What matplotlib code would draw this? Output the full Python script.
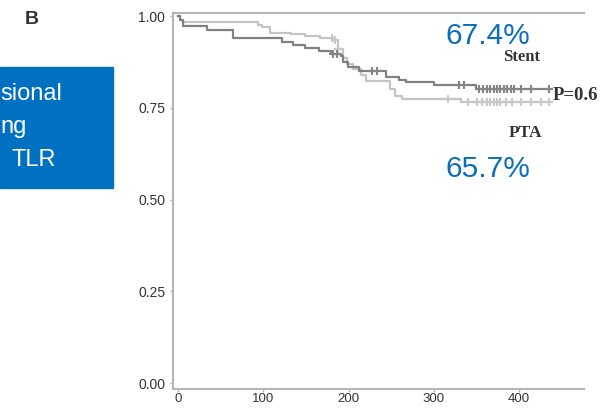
import matplotlib
matplotlib.use("Agg")
import matplotlib.pyplot as plt

plt.rcParams["font.family"] = ["Liberation Sans", "DejaVu Sans"]

# ---- data ----
stent_t = [0, 2, 6, 34, 64, 122, 135, 149, 165, 179, 191, 194, 199, 212, 244, 259, 267, 300, 349, 435]
stent_s = [1.0, 0.99, 0.973, 0.963, 0.940, 0.930, 0.922, 0.913, 0.905, 0.897, 0.890, 0.875, 0.860, 0.850, 0.835, 0.826, 0.819, 0.813, 0.800, 0.800]
pta_t = [0, 2, 6, 94, 99, 108, 132, 149, 167, 182, 188, 193, 198, 205, 214, 220, 249, 254, 263, 332, 435]
pta_s = [1.0, 0.99, 0.983, 0.975, 0.970, 0.955, 0.950, 0.945, 0.940, 0.935, 0.910, 0.885, 0.870, 0.855, 0.840, 0.823, 0.800, 0.782, 0.775, 0.767, 0.767]
stent_cens = [182, 186, 228, 233, 330, 335, 353, 358, 362, 366, 370, 374, 378, 382, 386, 390, 394, 402, 414, 435]
pta_cens = [180, 184, 188, 316, 340, 350, 356, 362, 366, 370, 374, 378, 384, 392, 402, 414, 426, 435]

x_ticks = [0, 100, 200, 300, 400]
y_ticks = [0.0, 0.25, 0.50, 0.75, 1.00]
y_tick_labels = ["0.00", "0.25", "0.50", "0.75", "1.00"]

box_lines = ["sional", "ng", "TLR"]
pct_stent = "67.4%"
pct_pta = "65.7%"
label_stent = "Stent"
label_pta = "PTA"
p_text = "P=0.6"
panel = "B"


def surv_at(ts, ss, t):
    v = ss[0]
    for ti, si in zip(ts, ss):
        if ti <= t:
            v = si
    return v


blue = "#0A6EBD"
fig = plt.figure(figsize=(6.14, 4.09), dpi=100)
fig.patch.set_facecolor("white")

ax = fig.add_axes([173 / 614, 1 - 389 / 409, (584 - 173) / 614, (389 - 13) / 409])
ax.set_xlim(-5.9, 476)
ax.set_ylim(-0.0163, 1.0082)

ax.step(pta_t, pta_s, where="post", color="#c4c4c4", lw=1.6, zorder=2)
ax.step(stent_t, stent_s, where="post", color="#808080", lw=1.6, zorder=3)
ax.plot(pta_cens, [surv_at(pta_t, pta_s, t) for t in pta_cens], ls="none",
        marker="+", ms=6, mew=1.5, color="#c8c8c8", zorder=2)
ax.plot(stent_cens, [surv_at(stent_t, stent_s, t) for t in stent_cens], ls="none",
        marker="+", ms=6, mew=1.5, color="#858585", zorder=3)

for s in ["left", "bottom", "top"]:
    ax.spines[s].set_color("#b5b5b5")
    ax.spines[s].set_linewidth(1.5)
ax.spines["right"].set_visible(False)

ax.set_xticks(x_ticks)
ax.set_yticks(y_ticks)
ax.set_yticklabels(y_tick_labels)
ax.tick_params(axis="y", colors="#b5b5b5", length=2.5, width=1, labelsize=10,
               labelcolor="#333333", pad=3)
ax.tick_params(axis="x", colors="#b5b5b5", length=2, width=1, labelsize=9.5,
               labelcolor="#333333", pad=1)

# annotations
fig.text(488 / 614, 1 - 36 / 409, pct_stent, color=blue, fontsize=21.5,
         ha="center", va="center")
fig.text(488 / 614, 1 - 169 / 409, pct_pta, color=blue, fontsize=21.5,
         ha="center", va="center")
fig.text(522 / 614, 1 - 57 / 409, label_stent, color="#333333", fontsize=12,
         fontweight="bold", family="Liberation Serif", ha="center", va="center")
fig.text(525.5 / 614, 1 - 133 / 409, label_pta, color="#333333", fontsize=12.5,
         fontweight="bold", family="Liberation Serif", ha="center", va="center")
fig.text(553 / 614, 1 - 96 / 409, p_text, color="#333333", fontsize=13.5,
         fontweight="bold", family="Liberation Serif", ha="left", va="center")

fig.text(32 / 614, 1 - 19 / 409, panel, color="#333333", fontsize=14,
         fontweight="bold", ha="center", va="center")

# blue box
box = plt.Rectangle((0, 1 - 188 / 409), 113 / 614, (188 - 67) / 409,
                    transform=fig.transFigure, color="#0070C0", zorder=0)
fig.patches.append(box)
ys = [94, 127, 160]
xs = [0, 0, 12]
for txt, yy, xx in zip(box_lines, ys, xs):
    fig.text(xx / 614, 1 - yy / 409, txt, color="white", fontsize=17,
             ha="left", va="center")

fig.savefig("out.png", dpi=100)
